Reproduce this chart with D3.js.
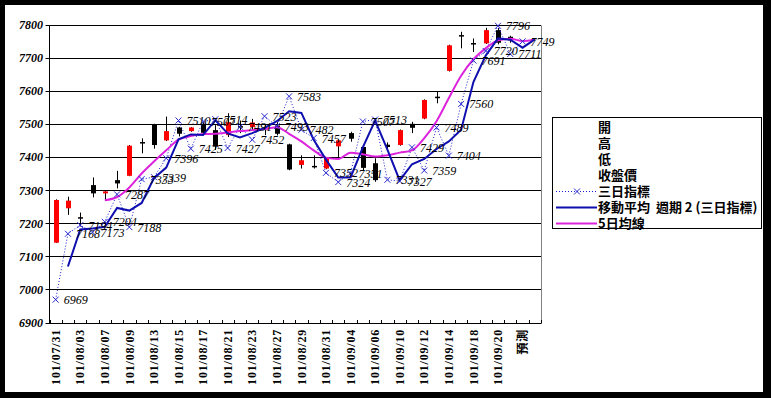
<!DOCTYPE html>
<html>
<head>
<meta charset="utf-8">
<script src="https://cdn.jsdelivr.net/npm/d3@7"></script>
<style>
body { margin: 0; background: #000; }
svg { display: block; }
</style>
</head>
<body>
<script>
// trading days (101 = ROC year 2012), then the forecast slot and one blank slot
const dates = ['101/07/31','101/08/01','101/08/03','101/08/06','101/08/07','101/08/08','101/08/09','101/08/10',
  '101/08/13','101/08/14','101/08/15','101/08/16','101/08/17','101/08/20','101/08/21','101/08/22','101/08/23',
  '101/08/24','101/08/27','101/08/28','101/08/29','101/08/30','101/08/31','101/09/03','101/09/04','101/09/05',
  '101/09/06','101/09/07','101/09/10','101/09/11','101/09/12','101/09/13','101/09/14','101/09/17','101/09/18',
  '101/09/19','101/09/20','101/09/21','預測',''];

const openP  = [7141,7245,7218,7315,7290,7330,7343,7445,7498,7450,7489,7478,7500,7481,7466,7493,7490,7488,7495,
  7438,7376,7373,7365,7432,7472,7430,7381,7437,7436,7500,7516,7582,7660,7768,7744,7743,7783,7763];
const highP  = [7272,7280,7232,7338,7297,7358,7436,7456,7500,7522,7491,7490,7505,7496,7532,7510,7515,7500,7505,
  7440,7405,7405,7399,7452,7476,7437,7396,7444,7483,7506,7574,7597,7739,7778,7758,7790,7790,7766];
const lowP   = [7140,7225,7190,7278,7270,7305,7342,7411,7425,7448,7462,7476,7470,7421,7460,7472,7480,7466,7465,
  7360,7365,7365,7363,7400,7446,7360,7325,7420,7434,7472,7514,7562,7658,7728,7717,7741,7740,7745];
const closeP = [7270,7268,7215,7290,7296,7320,7434,7443,7436,7478,7470,7489,7473,7431,7505,7490,7504,7485,7470,
  7362,7390,7371,7398,7450,7455,7367,7330,7430,7481,7488,7572,7580,7737,7766,7741,7783,7745,7752];

// 三日指標
const index3 = [6969,7168,7194,7173,7204,7287,7188,7333,7339,7396,7510,7425,7507,7514,7427,7491,7452,7523,7493,
  7583,7482,7457,7352,7324,7351,7507,7513,7331,7327,7429,7359,7489,7404,7560,7691,7720,7796,7711,7749];

// 移動平均 週期2 (三日指標)
const ma2 = [null,7069,7181,7184,7189,7246,7238,7261,7336,7368,7453,7468,7466,7511,7471,7459,7472,7488,7508,
  7538,7533,7452,7392,7338,7338,7429,7510,7422,7329,7378,7394,7424,7447,7482,7626,7706,7758,7754,7730,7755];

// 5日均線
const ma5 = [null,null,null,null,7269,7279,7308,7350,7386,7420,7452,7463,7469,7470,7474,7478,7481,7484,7490,
  7470,7447,7420,7398,7394,7413,7408,7401,7405,7413,7420,7457,7508,7578,7645,7695,7728,7752,7757,7750,7755];

const yTicks = [6900,7000,7100,7200,7300,7400,7500,7600,7700,7800];
const legendNames = ['開','高','低','收盤價','三日指標','移動平均  週期 2 (三日指標)','5日均線'];

const W = 771, H = 398;
const plotLeft = 49.5, plotRight = 541, plotTop = 24.5, plotBottom = 322.5;

const svg = d3.select('body').append('svg')
  .attr('width', W)
  .attr('height', H);

svg.append('rect').attr('width', W).attr('height', H).attr('fill', '#000');
svg.append('rect')
  .attr('x', 5).attr('y', 5)
  .attr('width', 758).attr('height', 387)
  .attr('fill', '#fff');

const x = d3.scaleBand().domain(dates).range([plotLeft, plotRight]).padding(0);
const y = d3.scaleLinear().domain([6900, 7800]).range([plotBottom, plotTop]);
const cx = (i) => x(dates[i]) + x.bandwidth() / 2;

// grid lines
svg.append('g')
  .selectAll('line')
  .data(yTicks)
  .enter()
  .append('line')
  .attr('x1', plotLeft - 4).attr('x2', plotRight)
  .attr('y1', d => Math.round(y(d)) + 0.5).attr('y2', d => Math.round(y(d)) + 0.5)
  .attr('stroke', '#000')
  .attr('stroke-width', 1);

// plot frame: left axis black, right edge grey
svg.append('line')
  .attr('x1', plotLeft).attr('x2', plotLeft)
  .attr('y1', Math.round(plotTop) + 0.5).attr('y2', Math.round(plotBottom) + 0.5)
  .attr('stroke', '#000');
svg.append('line')
  .attr('x1', plotRight + 0.5).attr('x2', plotRight + 0.5)
  .attr('y1', Math.round(plotTop) + 0.5).attr('y2', Math.round(plotBottom) + 0.5)
  .attr('stroke', '#808080');

// y labels
svg.append('g')
  .selectAll('text')
  .data(yTicks)
  .enter()
  .append('text')
  .attr('x', 43)
  .attr('y', d => y(d) + 4.5)
  .attr('text-anchor', 'end')
  .attr('font-family', 'Liberation Serif')
  .attr('font-style', 'italic')
  .attr('font-weight', 'bold')
  .attr('font-size', '12px')
  .text(d => d);

// x ticks at category boundaries
const bounds = dates.map(d => x(d)).concat([plotRight]);
svg.append('g')
  .selectAll('line')
  .data(bounds)
  .enter()
  .append('line')
  .attr('x1', d => Math.round(d) + 0.5).attr('x2', d => Math.round(d) + 0.5)
  .attr('y1', Math.round(plotBottom) + 0.5).attr('y2', Math.round(plotBottom) - 3)
  .attr('stroke', '#000');

// x labels, every second category, rotated
svg.append('g')
  .selectAll('text')
  .data(dates.filter((d, i) => i % 2 === 0))
  .enter()
  .append('text')
  .attr('transform', d => 'translate(' + (x(d) + x.bandwidth() / 2) + ',' + 329 + ') rotate(-90)')
  .attr('dy', '0.35em')
  .attr('text-anchor', 'end')
  .attr('font-family', 'Liberation Serif, "Noto Sans CJK TC"')
  .attr('font-weight', 'bold')
  .attr('font-size', '12px')
  .attr('letter-spacing', '0.8px')
  .text(d => d);

// candles
const candles = openP.map((o, i) => ({ i: i, o: o, h: highP[i], l: lowP[i], c: closeP[i] }));
const cg = svg.append('g');
cg.selectAll('line')
  .data(candles)
  .enter()
  .append('line')
  .attr('x1', d => Math.round(cx(d.i)) + 0.5).attr('x2', d => Math.round(cx(d.i)) + 0.5)
  .attr('y1', d => y(d.h)).attr('y2', d => y(d.l))
  .attr('stroke', '#000');
cg.selectAll('rect')
  .data(candles)
  .enter()
  .append('rect')
  .attr('x', d => Math.round(cx(d.i)) - 2)
  .attr('width', 5)
  .attr('y', d => y(Math.max(d.o, d.c)))
  .attr('height', d => Math.max(1.5, Math.abs(y(d.o) - y(d.c))))
  .attr('fill', d => d.c >= d.o ? '#ff0000' : '#000');

// 三日指標 dotted line with x markers
svg.append('path')
  .datum(index3)
  .attr('fill', 'none')
  .attr('stroke', '#1a1acc')
  .attr('stroke-width', 1)
  .attr('stroke-dasharray', '1,2')
  .attr('d', d3.line().x((d, i) => cx(i)).y(d => y(d)));

// moving average lines
svg.append('path')
  .datum(ma5)
  .attr('fill', 'none')
  .attr('stroke', '#dd22dd')
  .attr('stroke-width', 2)
  .attr('d', d3.line().defined(d => d !== null).x((d, i) => cx(i)).y(d => y(d)).curve(d3.curveMonotoneX));

svg.append('path')
  .datum(ma2)
  .attr('fill', 'none')
  .attr('stroke', '#0f0fb0')
  .attr('stroke-width', 2)
  .attr('d', d3.line().defined(d => d !== null).x((d, i) => cx(i)).y(d => y(d)));

svg.append('g')
  .selectAll('path')
  .data(index3)
  .enter()
  .append('path')
  .attr('transform', (d, i) => 'translate(' + cx(i) + ',' + y(d) + ')')
  .attr('d', 'M-3,-3L3,3M-3,3L3,-3')
  .attr('stroke', '#2a2ad0')
  .attr('stroke-width', 1)
  .attr('fill', 'none');

svg.append('g')
  .selectAll('text')
  .data(index3)
  .enter()
  .append('text')
  .attr('x', (d, i) => cx(i) + 8)
  .attr('y', d => y(d) + 4.5)
  .attr('font-family', 'Liberation Serif')
  .attr('font-style', 'italic')
  .attr('font-size', '12px')
  .attr('fill', '#000')
  .text(d => d);

// legend
const lg = svg.append('g');
lg.append('rect')
  .attr('x', 552.5).attr('y', 117.5)
  .attr('width', 209).attr('height', 111)
  .attr('fill', '#fff')
  .attr('stroke', '#000');

lg.selectAll('text')
  .data(legendNames)
  .enter()
  .append('text')
  .attr('x', 598)
  .attr('y', (d, i) => 127 + 16 * i + 5)
  .attr('font-family', '"Noto Sans CJK TC"')
  .attr('font-weight', 'bold')
  .attr('font-size', '13px')
  .style('white-space', 'pre')
  .text(d => d);

const ly = (i) => 127 + 16 * i + 0.5;
lg.append('line')
  .attr('x1', 556).attr('x2', 597).attr('y1', ly(4)).attr('y2', ly(4))
  .attr('stroke', '#1a1acc').attr('stroke-dasharray', '1,2');
lg.append('path')
  .attr('transform', 'translate(577,' + ly(4) + ')')
  .attr('d', 'M-3,-3L3,3M-3,3L3,-3')
  .attr('stroke', '#2a2ad0').attr('fill', 'none');
lg.append('line')
  .attr('x1', 556).attr('x2', 597).attr('y1', ly(5)).attr('y2', ly(5))
  .attr('stroke', '#0f0fb0').attr('stroke-width', 2);
lg.append('line')
  .attr('x1', 556).attr('x2', 597).attr('y1', ly(6)).attr('y2', ly(6))
  .attr('stroke', '#dd22dd').attr('stroke-width', 2);
</script>
</body>
</html>
